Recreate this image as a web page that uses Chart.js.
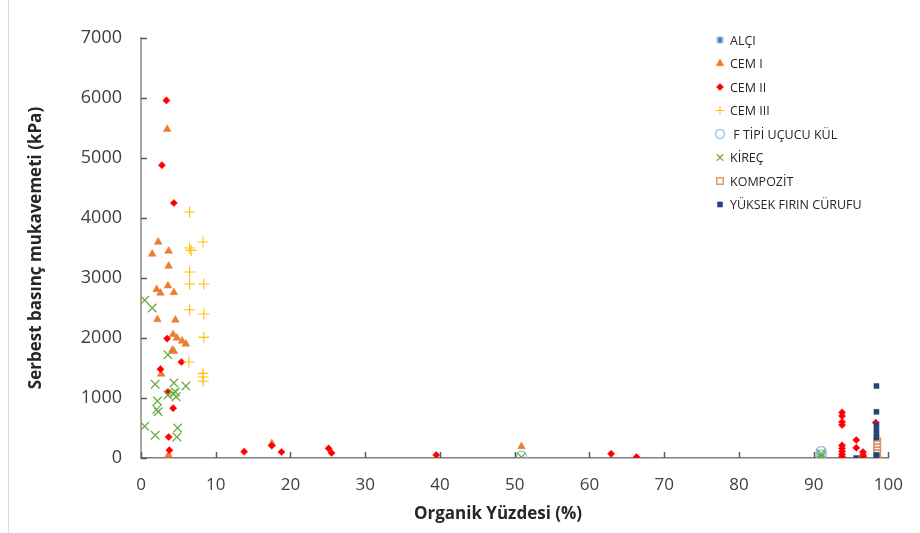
<!DOCTYPE html>
<html>
<head>
<meta charset="utf-8">
<script src="https://cdn.jsdelivr.net/npm/chart.js@4/dist/chart.umd.min.js"></script>
<style>
  html, body { margin: 0; padding: 0; background: #fff; }
  #wrap { width: 920px; height: 533px; position: relative; }
</style>
</head>
<body>
<div id="wrap"><canvas id="mainGraph"></canvas></div>
<script>
// series values (x = organik %, y = kPa)
const ALCI_X = [91.0, 98.5];
const ALCI_Y = [20, 30];

const CEM1_X = [3.5, 2.3, 1.5, 3.7, 3.7, 3.6, 2.1, 2.6, 4.4, 2.2, 4.6, 4.3, 4.8, 5.5, 6.0, 4.4, 4.2, 2.7, 3.7, 17.5, 50.9];
const CEM1_Y = [5480, 3600, 3400, 3450, 3200, 2870, 2810, 2750, 2760, 2310, 2300, 2060, 2000, 1950, 1900, 1780, 1800, 1400, 50, 240, 190];

const CEM2_X = [3.4, 2.8, 4.4, 3.5, 5.4, 2.6, 3.6, 4.3, 3.7, 3.8, 13.8, 17.5, 18.8, 25.1, 25.5, 39.5, 62.9, 66.3,
                93.8, 93.8, 93.8, 93.8, 93.8, 93.8, 93.8, 93.8, 93.8, 95.7, 95.7, 96.6, 96.6, 96.6, 98.3];
const CEM2_Y = [5960, 4880, 4250, 1990, 1600, 1480, 1100, 830, 350, 130, 105, 205, 100, 160, 85, 50, 70, 15,
                760, 700, 600, 550, 210, 160, 110, 60, 20, 300, 170, 100, 50, 20, 590];

const CEM3_X = [6.5, 8.3, 6.5, 6.7, 6.5, 6.5, 8.4, 6.5, 8.4, 8.4, 6.4, 8.3, 8.3, 8.3];
const CEM3_Y = [4100, 3600, 3500, 3460, 3100, 2900, 2900, 2470, 2400, 2010, 1600, 1410, 1350, 1280];

const FKUL_X = [91.0, 91.0, 50.9];
const FKUL_Y = [110, 50, 30];

const KIREC_X = [0.5, 1.5, 3.6, 1.9, 4.4, 6.0, 3.6, 4.3, 4.6, 4.7, 2.2, 2.1, 2.3, 0.5, 1.9, 4.9, 4.8, 50.9, 91.0, 91.0];
const KIREC_Y = [2630, 2500, 1720, 1230, 1250, 1200, 1050, 1080, 1100, 1020, 950, 810, 770, 530, 380, 500, 350, 15, 70, 30];

const KOMP_X = [98.5, 98.5, 98.5, 98.5, 98.5, 98.5];
const KOMP_Y = [280, 230, 180, 130, 80, 30];

const YFC_X = [98.4, 98.4, 98.4, 98.4, 98.4, 98.4, 98.4, 98.4, 95.7];
const YFC_Y = [1200, 770, 550, 470, 400, 340, 50, 10, 0];

const X_TICKS = [0, 10, 20, 30, 40, 50, 60, 70, 80, 90, 100];
const Y_TICKS = [0, 1000, 2000, 3000, 4000, 5000, 6000, 7000];

const X_TITLE = 'Organik Yüzdesi (%)';
const Y_TITLE = 'Serbest basınç mukavemeti (kPa)';

function pts(xs, ys) {
  return xs.map((x, i) => ({x: x, y: ys[i]}));
}

const seriesDefs = [
  {label: 'ALÇI', xs: ALCI_X, ys: ALCI_Y, style: 'star', r: 4, bg: 'rgba(0,0,0,0)', bc: '#4472C4', bw: 1.2},
  {label: 'CEM I', xs: CEM1_X, ys: CEM1_Y, style: 'triangle', r: 4.5, bg: '#ED7D31', bc: '#ED7D31', bw: 0.5},
  {label: 'CEM II', xs: CEM2_X, ys: CEM2_Y, style: 'rectRot', r: 3.6, bg: '#FF0000', bc: '#FF0000', bw: 0.5},
  {label: 'CEM III', xs: CEM3_X, ys: CEM3_Y, style: 'cross', r: 5.5, bg: 'rgba(0,0,0,0)', bc: '#FFC000', bw: 1.1},
  {label: ' F TİPİ UÇUCU KÜL', xs: FKUL_X, ys: FKUL_Y, style: 'circle', r: 5, bg: 'rgba(0,0,0,0)', bc: '#9DC3E6', bw: 1.5},
  {label: 'KİREÇ', xs: KIREC_X, ys: KIREC_Y, style: 'crossRot', r: 6, bg: 'rgba(0,0,0,0)', bc: '#70AD47', bw: 1.3},
  {label: 'KOMPOZİT', xs: KOMP_X, ys: KOMP_Y, style: 'rect', r: 4.5, bg: 'rgba(0,0,0,0)', bc: '#D9956A', bw: 1.4},
  {label: 'YÜKSEK FIRIN CÜRUFU', xs: YFC_X, ys: YFC_Y, style: 'rect', r: 3.6, bg: '#264478', bc: '#264478', bw: 0.5}
];

const datasets = seriesDefs.map((s, i) => ({
  label: s.label,
  data: pts(s.xs, s.ys),
  pointStyle: s.style,
  pointRadius: s.r,
  pointBackgroundColor: s.bg,
  pointBorderColor: s.bc,
  pointBorderWidth: s.bw,
  backgroundColor: s.bg,
  borderColor: s.bc,
  order: seriesDefs.length - i   // later series on top, like excel
}));

// ticks drawn inward + axis titles + legend on the right
const extras = {
  id: 'extras',
  afterDraw(chart) {
    const ctx = chart.ctx;
    const xs = chart.scales.x, ys = chart.scales.y;
    const area = chart.chartArea;
    ctx.save();
    // frame line at left
    ctx.strokeStyle = '#D9D9D9';
    ctx.lineWidth = 1;
    ctx.beginPath(); ctx.moveTo(8.5, 0); ctx.lineTo(8.5, 533); ctx.stroke();

    ctx.strokeStyle = '#595959';
    ctx.lineWidth = 1.5;
    X_TICKS.forEach(v => {
      const px = Math.round(xs.getPixelForValue(v)) + 0.5;
      ctx.beginPath(); ctx.moveTo(px, area.bottom); ctx.lineTo(px, area.bottom - 6); ctx.stroke();
    });
    Y_TICKS.forEach(v => {
      const py = Math.round(ys.getPixelForValue(v)) + 0.5;
      ctx.beginPath(); ctx.moveTo(area.left, py); ctx.lineTo(area.left + 6, py); ctx.stroke();
    });

    // axis titles
    ctx.fillStyle = '#262626';
    ctx.font = "bold 17px 'Open Sans', sans-serif";
    ctx.textAlign = 'center';
    ctx.textBaseline = 'middle';
    ctx.fillText(X_TITLE, 498, 514);
    ctx.translate(36, (area.top + area.bottom) / 2);
    ctx.rotate(-Math.PI / 2);
    ctx.fillText(Y_TITLE, 0, 0);
    ctx.restore();

    // legend
    ctx.save();
    ctx.font = "12.5px 'Open Sans', sans-serif";
    ctx.textAlign = 'left';
    ctx.textBaseline = 'middle';
    chart.data.datasets.forEach((ds, i) => {
      const y = 40 + i * 23.5;
      ctx.fillStyle = ds.pointBackgroundColor;
      ctx.strokeStyle = ds.pointBorderColor;
      ctx.lineWidth = ds.pointBorderWidth;
      Chart.helpers.drawPoint(ctx, {
        pointStyle: ds.pointStyle,
        radius: Math.min(ds.pointRadius, 4.5),
        rotation: 0,
        borderWidth: ds.pointBorderWidth
      }, 720, y);
      ctx.fillStyle = '#262626';
      ctx.fillText(ds.label, 730, y + 1);
    });
    ctx.restore();
  }
};

Chart.defaults.font.family = "'Open Sans', sans-serif";
Chart.defaults.color = '#404040';

var ctx = document.getElementById('mainGraph').getContext('2d');
var chart = new Chart(ctx, {
  type: 'scatter',
  data: { datasets: datasets },
  options: {
    responsive: true,
    maintainAspectRatio: false,
    animation: false,
    layout: { padding: { left: 0, right: 22, top: 38, bottom: 0 } },
    plugins: {
      legend: { display: false },
      tooltip: { enabled: false }
    },
    scales: {
      x: {
        type: 'linear',
        min: 0, max: 100,
        afterBuildTicks: s => { s.ticks = X_TICKS.map(v => ({value: v})); },
        afterFit: s => { s.height = 75; },
        grid: { display: true, drawOnChartArea: false, drawTicks: false },
        border: { display: true, color: '#7F7F7F', width: 1.5 },
        ticks: { font: { size: 17 }, padding: 17, color: '#404040', callback: v => String(v) }
      },
      y: {
        type: 'linear',
        min: 0, max: 7000,
        afterBuildTicks: s => { s.ticks = Y_TICKS.map(v => ({value: v})); },
        afterFit: s => { s.width = 141; },
        grid: { display: true, drawOnChartArea: false, drawTicks: false },
        border: { display: true, color: '#A6A6A6', width: 2 },
        ticks: { font: { size: 18 }, padding: 19, color: '#404040', callback: v => String(v) }
      }
    }
  },
  plugins: [extras]
});
</script>
</body>
</html>
